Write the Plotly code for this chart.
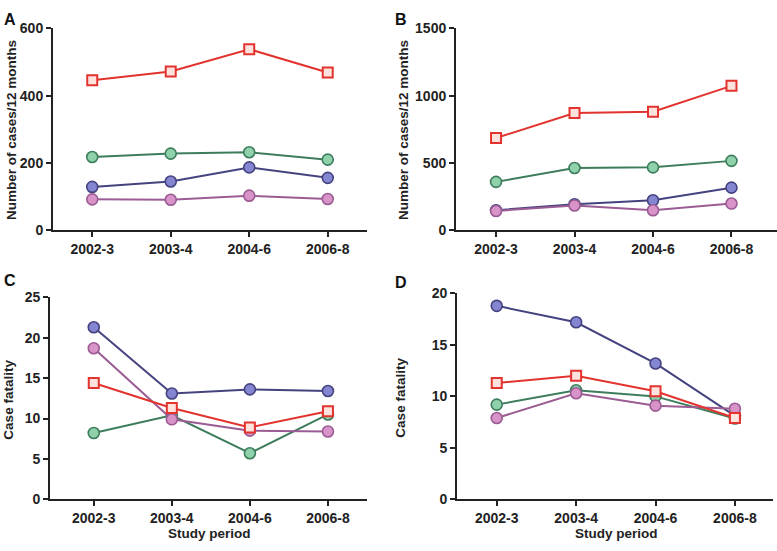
import plotly.graph_objects as go

periods = ["2002-3", "2003-4", "2004-6", "2006-8"]

# Panel A: number of cases / 12 months
a_red = [446, 472, 538, 469]
a_green = [218, 228, 232, 210]
a_blue = [129, 145, 187, 156]
a_pink = [92, 91, 103, 93]

# Panel B: number of cases / 12 months
b_red = [686, 871, 881, 1073]
b_green = [360, 463, 468, 516]
b_blue = [149, 194, 223, 317]
b_pink = [144, 185, 149, 199]

# Panel C: case fatality
c_red = [14.4, 11.3, 8.9, 10.9]
c_green = [8.2, 10.4, 5.7, 10.5]
c_blue = [21.3, 13.1, 13.6, 13.4]
c_pink = [18.7, 9.9, 8.5, 8.4]

# Panel D: case fatality
d_red = [11.3, 12.0, 10.5, 7.9]
d_green = [9.2, 10.6, 10.0, 7.85]
d_blue = [18.8, 17.2, 13.2, 8.1]
d_pink = [7.9, 10.3, 9.1, 8.8]

styles = {
    "green": dict(line="#3d7d5c", fill="#8fd1aa", symbol="circle"),
    "blue": dict(line="#45437f", fill="#8486d2", symbol="circle"),
    "pink": dict(line="#9a5c93", fill="#d893c9", symbol="circle"),
    "red": dict(line="#e2332e", fill="#fde2dd", symbol="square"),
}

panels = [
    dict(name="A", data=dict(green=a_green, blue=a_blue, pink=a_pink, red=a_red),
         xdom=[0.0682, 0.4723], ydom=[0.5844, 0.9619], xr=[-0.5, 3.5], yr=[0, 600], dt=200),
    dict(name="B", data=dict(green=b_green, blue=b_blue, pink=b_pink, red=b_red),
         xdom=[0.5869, 1.0], ydom=[0.5844, 0.9619], xr=[-0.51, 3.58], yr=[0, 1500], dt=500),
    dict(name="C", data=dict(green=c_green, blue=c_blue, pink=c_pink, red=c_red),
         xdom=[0.0644, 0.4723], ydom=[0.0817, 0.4592], xr=[-0.56, 3.5], yr=[0, 25], dt=5),
    dict(name="D", data=dict(green=d_green, blue=d_blue, pink=d_pink, red=d_red),
         xdom=[0.5882, 0.9949], ydom=[0.0817, 0.4664], xr=[-0.5, 3.48], yr=[0, 20], dt=5),
]

fig = go.Figure()
family = "Liberation Sans, Arial, sans-serif"
axis_color = "#222222"

for i, p in enumerate(panels):
    n = i + 1
    xa = "x" if n == 1 else f"x{n}"
    ya = "y" if n == 1 else f"y{n}"
    for key in ["green", "blue", "pink", "red"]:
        s = styles[key]
        sq = s["symbol"] == "square"
        fig.add_trace(go.Scatter(
            x=list(range(len(periods))), y=p["data"][key], xaxis=xa, yaxis=ya,
            mode="lines+markers",
            line=dict(color=s["line"], width=2),
            marker=dict(symbol=s["symbol"], size=10 if sq else 11, color=s["fill"],
                        line=dict(color=s["line"], width=2 if sq else 1.6)),
            showlegend=False, cliponaxis=False,
        ))
    common = dict(showgrid=False, zeroline=False, showline=True, linecolor=axis_color,
                  linewidth=2, ticks="outside", tickcolor=axis_color, tickwidth=2, ticklen=5,
                  tickfont=dict(family=family, size=14, color="#222222"))
    xs = "xaxis" if n == 1 else f"xaxis{n}"
    ys = "yaxis" if n == 1 else f"yaxis{n}"
    fig.layout[xs] = dict(domain=p["xdom"], range=p["xr"], anchor=ya,
                          tickmode="array", tickvals=list(range(len(periods))),
                          ticktext=[f"<b>{t}</b>" for t in periods], **common)
    fig.layout[ys] = dict(domain=p["ydom"], range=p["yr"], anchor=xa,
                          tickmode="linear", tick0=0, dtick=p["dt"],
                          tickformat="d", tickprefix="<b>", ticksuffix="</b>", **common)

ann = []
letters = [("A", 0.003, 0.998), ("B", 0.506, 0.998), ("C", 0.003, 0.510), ("D", 0.506, 0.507)]
for t, x, y in letters:
    ann.append(dict(text=f"<b>{t}</b>", x=x, y=y, xref="paper", yref="paper",
                    xanchor="left", yanchor="top", showarrow=False,
                    font=dict(family=family, size=16, color="#111111")))
ytitles = [("Number of cases/12 months", 0.0154, 0.772), ("Number of cases/12 months", 0.520, 0.772),
           ("Case fatality", 0.0116, 0.268), ("Case fatality", 0.515, 0.272)]
for t, x, y in ytitles:
    ann.append(dict(text=f"<b>{t}</b>", x=x, y=y, xref="paper", yref="paper",
                    xanchor="center", yanchor="middle", textangle=-90, showarrow=False,
                    font=dict(family=family, size=13.5, color="#222222")))
for x in [0.269, 0.793]:
    ann.append(dict(text="<b>Study period</b>", x=x, y=0.018, xref="paper", yref="paper",
                    xanchor="center", yanchor="middle", showarrow=False,
                    font=dict(family=family, size=13.5, color="#222222")))

fig.update_layout(width=777, height=551, margin=dict(l=0, r=0, t=0, b=0),
                  paper_bgcolor="white", plot_bgcolor="white",
                  font=dict(family=family, size=13, color="#222222"),
                  annotations=ann)

fig.write_html("out.html", config={"displayModeBar": False},
               post_script="document.body.style.margin='0';document.body.style.overflow='hidden';")
